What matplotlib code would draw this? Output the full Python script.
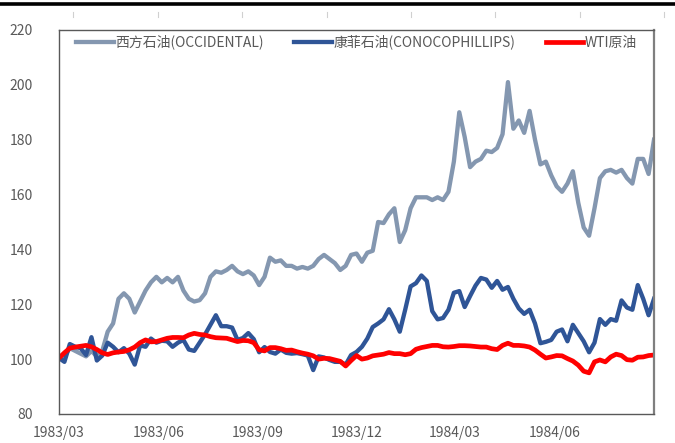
"""Oil stocks vs WTI, rebased to 100 (1983/03 - 1984/08)."""

import matplotlib

matplotlib.use("Agg")
import matplotlib.dates as mdates  # noqa: E402
import matplotlib.pyplot as plt  # noqa: E402
import pandas as pd  # noqa: E402
from matplotlib.lines import Line2D  # noqa: E402

START = "1983-03-01"
STEP = "5D"

# rebased index values, one every 5 days
oxy = [
    100, 101, 104, 103, 102, 101, 103, 101, 103, 110,
    113, 122, 124, 122, 117, 121, 125, 128, 130, 128,
    129.6, 128, 130, 125, 122, 121, 121.5, 124, 130, 132,
    131.5, 132.5, 134, 132, 131, 132, 130.5, 127, 130, 137,
    135.5, 136, 134, 134, 133, 133.6, 133, 134, 136.5, 138,
    136.5, 135, 132.5, 134, 138, 138.5, 135.5, 138.8, 139.5, 150,
    149.6, 152.8, 155, 142.7, 147, 155, 159, 159, 159, 158,
    159, 158, 161, 172, 190, 181, 170, 172, 173, 176,
    175.5, 177, 182, 201, 184, 187, 182.5, 190.5, 180, 171,
    172, 167, 163, 161, 164, 168.5, 157, 148, 145, 155,
    166, 168.5, 169, 168, 169, 166, 164, 173, 173, 167.5,
    180,
]
cop = [
    100.4, 99, 105.5, 104.5, 104, 101.5, 108, 99.5, 101.3, 106,
    104.5, 102.5, 104, 102, 98, 105, 104.5, 107.5, 106, 106.7,
    106.5, 104.5, 106, 107, 103.5, 103, 106, 109, 112.5, 116,
    112, 112, 111.5, 107, 107.7, 109.5, 107.3, 102.5, 104.4, 102.6,
    102, 103.5, 102.3, 102, 102.2, 101.8, 101.3, 96, 101, 100.6,
    99.7, 99, 99, 98, 101.5, 102.6, 104.5, 107.5, 111.7, 113,
    114.5, 118.2, 114.5, 110, 118, 126.5, 127.7, 130.5, 128.5, 117.5,
    114.5, 115, 118, 124.2, 124.8, 119, 123, 126.8, 129.6, 129,
    126, 128.5, 125.3, 126.3, 122, 118.5, 116.5, 118, 113, 105.8,
    106.3, 107, 110, 110.8, 106.5, 112.5, 109.5, 106.5, 102.5, 106,
    114.6, 112.5, 114.6, 114, 121.4, 118.8, 118, 127, 122, 116,
    122,
]
wti = [
    100.4, 102.3, 104, 104.4, 104.7, 105, 104.5, 103.5, 102.3, 101.7,
    102.3, 102.6, 102.8, 103.4, 104.4, 106, 107, 106.3, 106.4, 107,
    107.6, 107.9, 107.9, 107.8, 108.8, 109.4, 109, 108.8, 108.2, 107.8,
    107.7, 107.6, 107, 106.4, 106.8, 106.7, 106, 103.4, 103, 104.2,
    104.2, 103.8, 103.2, 103.3, 102.7, 102.2, 101.8, 101.2, 100, 100.3,
    100.2, 99.7, 99.2, 97.5, 99.5, 101.3, 100, 100.4, 101.2, 101.5,
    101.8, 102.4, 102, 102, 101.6, 102, 103.6, 104.2, 104.6, 105,
    105, 104.5, 104.4, 104.6, 104.9, 104.9, 104.8, 104.6, 104.4, 104.4,
    103.8, 103.5, 105, 105.8, 105, 105, 104.8, 104.4, 103.3, 101.8,
    100.4, 100.8, 101.3, 101.2, 100.2, 99.3, 97.8, 95.6, 95, 99,
    99.7, 99, 100.8, 101.8, 101.3, 99.8, 99.6, 100.7, 100.8, 101.3,
    101.5,
]

labels = ["西方石油(OCCIDENTAL)", "康菲石油(CONOCOPHILLIPS)", "WTI原油"]
colors = ["#8497B0", "#2F5597", "#FF0000"]
tick_dates = ["1983-03-01", "1983-06-01", "1983-09-01",
              "1983-12-01", "1984-03-01", "1984-06-01"]

plt.rcParams["font.family"] = ["Noto Sans CJK SC", "DejaVu Sans"]

dates = pd.date_range(START, periods=len(oxy), freq=STEP)

fig = plt.figure(figsize=(6.75, 4.43), dpi=100)
ax = fig.add_axes([0.0874, 0.0655, 0.8815, 0.8668])

for series, lab, col, lw in zip([oxy, cop, wti], labels, colors, [3.1, 3.1, 3.4]):
    ax.plot(dates, series, color=col, lw=lw, label=lab, solid_joinstyle="round")

ax.set_ylim(80, 220)
ax.set_yticks(range(80, 221, 20))
ax.set_xlim(dates[0], dates[-1])
ax.set_xticks(pd.to_datetime(tick_dates))
ax.xaxis.set_major_formatter(mdates.DateFormatter("%Y/%m"))
ax.tick_params(axis="both", length=0, labelsize=10, labelcolor="#595959")
ax.tick_params(axis="y", pad=19)
ax.tick_params(axis="x", pad=9)

for side in ["left", "bottom", "top"]:
    ax.spines[side].set_color("#595959")
    ax.spines[side].set_linewidth(1.0)
ax.spines["right"].set_color("#7F7F7F")
ax.spines["right"].set_linewidth(1.6)

ax.legend(loc="upper center", ncol=3, frameon=False, fontsize=10,
          labelcolor="#595959", handlelength=2.7, handletextpad=0.1,
          columnspacing=2.2, bbox_to_anchor=(0.5, 1.02))

# screenshot remnants above the chart
fig.add_artist(Line2D([0, 1], [0.990, 0.990], color="black", lw=2.6,
                      transform=fig.transFigure))
for xp in [73, 158, 242, 327, 411, 495, 580, 664]:
    fig.add_artist(Line2D([xp / 675, xp / 675], [1 - 12 / 443, 1 - 17 / 443],
                          color="#D0D0D0", lw=0.8, transform=fig.transFigure))

fig.savefig("out.png", dpi=100)
